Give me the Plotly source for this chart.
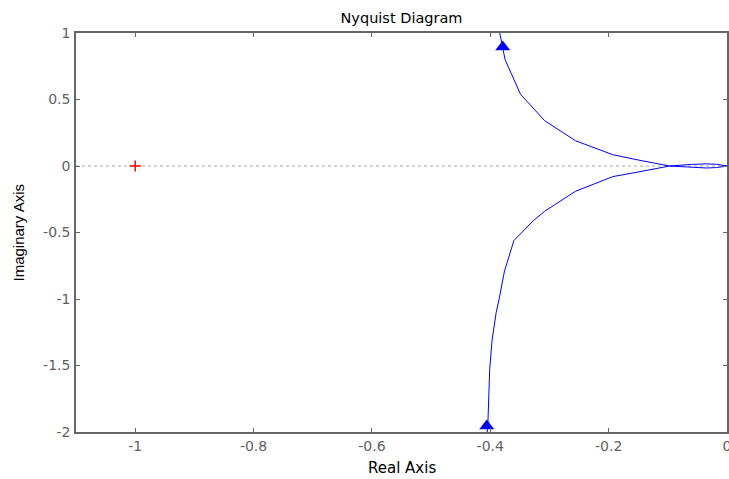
import plotly.graph_objects as go

# Positive-frequency branch (lower half)
lower_re = [-0.405, -0.404, -0.401, -0.397, -0.390, -0.385, -0.376, -0.360,
            -0.327, -0.308, -0.256, -0.193, -0.150, -0.097, -0.060, -0.035,
            -0.018, -0.007, 0.0]
lower_im = [-2.00, -1.93, -1.53, -1.31, -1.10, -1.00, -0.79, -0.56,
            -0.41, -0.34, -0.19, -0.08, -0.045, 0.0, 0.012, 0.016,
            0.013, 0.005, 0.0]

# Negative-frequency branch (upper half)
upper_re = [0.0, -0.007, -0.018, -0.035, -0.060, -0.097, -0.150, -0.193,
            -0.256, -0.308, -0.349, -0.375, -0.384, -0.386]
upper_im = [0.0, -0.005, -0.012, -0.015, -0.011, 0.0, 0.045, 0.085,
            0.19, 0.34, 0.54, 0.80, 1.00, 1.10]

# Direction arrows
arrow_re = [-0.406, -0.379]
arrow_im = [-1.955, 0.895]

# Critical point
crit_re = [-1.0]
crit_im = [0.0]

x_ticks = [-1, -0.8, -0.6, -0.4, -0.2, 0]
x_ticktext = ["-1", "-0.8", "-0.6", "-0.4", "-0.2", "0"]
y_ticks = [-2, -1.5, -1, -0.5, 0, 0.5, 1]
y_ticktext = ["-2", "-1.5", "-1", "-0.5", "0", "0.5", "1"]

x_range = [-1.1, 0]
y_range = [-2, 1]

BLUE = "rgb(0,0,255)"
GRAY = "#666666"

fig = go.Figure()

# zero line (dotted)
fig.add_trace(go.Scatter(x=x_range, y=[0, 0], mode="lines",
                         line=dict(color="#a8a8a8", width=1, dash="dot"),
                         hoverinfo="skip"))

fig.add_trace(go.Scatter(x=lower_re, y=lower_im, mode="lines",
                         line=dict(color=BLUE, width=1)))
fig.add_trace(go.Scatter(x=upper_re, y=upper_im, mode="lines",
                         line=dict(color=BLUE, width=1)))
fig.add_trace(go.Scatter(x=arrow_re, y=arrow_im, mode="markers",
                         marker=dict(symbol="triangle-up", size=13, color=BLUE,
                                     line=dict(width=0)),
                         cliponaxis=False))
fig.add_trace(go.Scatter(x=crit_re, y=crit_im, mode="markers",
                         marker=dict(symbol="cross-thin", size=8,
                                     line=dict(color="red", width=1.5))))

fig.update_layout(
    width=729, height=479,
    margin=dict(l=76, r=2, t=33, b=47),
    paper_bgcolor="white", plot_bgcolor="white",
    showlegend=False,
    title=dict(text="Nyquist Diagram", x=0.5, xref="paper", xanchor="center",
               y=1 - 18 / 479, yref="container", yanchor="middle",
               font=dict(family="DejaVu Sans", size=14.5, color="black")),
    xaxis=dict(range=x_range, tickvals=x_ticks, ticktext=x_ticktext,
               ticks="inside", ticklen=4, tickcolor=GRAY, tickwidth=1,
               showline=True, linecolor=GRAY, linewidth=1.5, mirror="ticks",
               showgrid=False, zeroline=False, automargin=False,
               ticklabeloverflow="allow",
               tickfont=dict(family="DejaVu Sans", size=14, color="#5f5f5f")),
    yaxis=dict(range=y_range, tickvals=y_ticks, ticktext=y_ticktext,
               ticks="inside", ticklen=4, tickcolor=GRAY, tickwidth=1,
               showline=True, linecolor=GRAY, linewidth=1.5, mirror="ticks",
               showgrid=False, zeroline=False, automargin=False,
               ticklabeloverflow="allow", ticklabelstandoff=1,
               tickfont=dict(family="DejaVu Sans", size=14, color="#5f5f5f")),
    annotations=[
        dict(text="Real Axis", xref="paper", yref="paper", x=0.5, y=-36 / 399,
             xanchor="center", yanchor="middle", showarrow=False,
             font=dict(family="DejaVu Sans", size=15, color="black")),
        dict(text="Imaginary Axis", xref="paper", yref="paper", x=-58 / 651, y=0.5,
             xanchor="center", yanchor="middle", showarrow=False, textangle=-90,
             font=dict(family="Liberation Sans", size=15, color="black")),
    ],
)

fig.write_html("out.html")
